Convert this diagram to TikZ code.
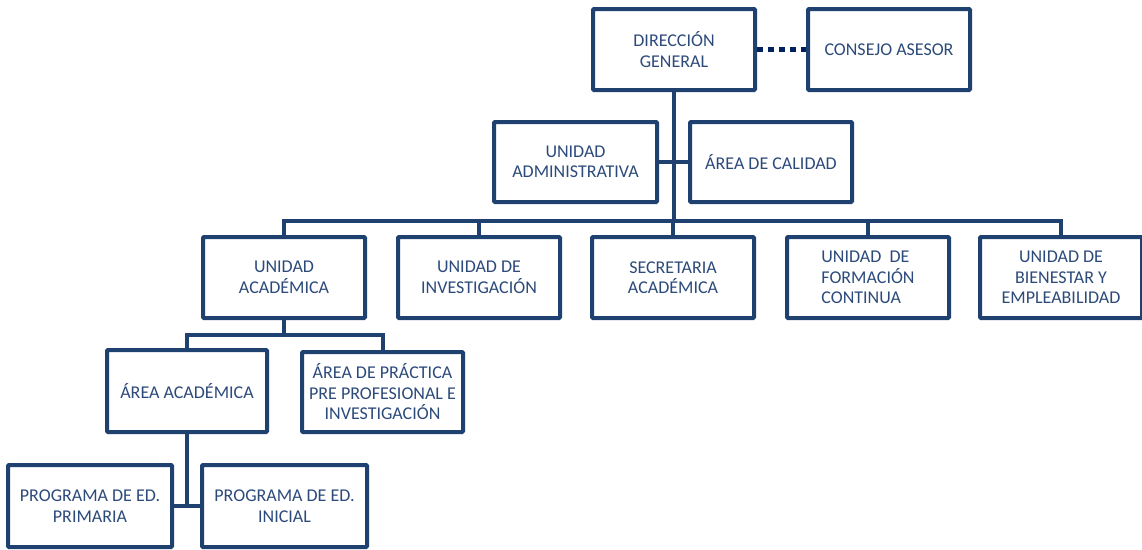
\documentclass[tikz,border=0pt]{standalone}
\usepackage{fontspec}
\setmainfont{Carlito}
\usetikzlibrary{backgrounds}
\definecolor{boxline}{RGB}{31,65,112}
\definecolor{boxtext}{RGB}{44,74,122}
\definecolor{navy}{RGB}{0,32,96}
\begin{document}
\begin{tikzpicture}[x=1pt,y=-1pt,
  box/.style={draw=boxline, line width=4pt, fill=white, rectangle, rounded corners=1pt,
    minimum width=162pt, minimum height=81pt, inner sep=2pt, align=center,
    text=boxtext, font=\fontsize{18}{20.5}\selectfont},
  conn/.style={draw=boxline, line width=4pt},
  dots/.style={draw=navy, line width=5pt, dash pattern=on 6pt off 5pt}]
\useasboundingbox (0,0) rectangle (1142,549);
% nodes
\node[box] (dg) at (674,49.5) {DIRECCIÓN\\GENERAL};
\node[box] (ca) at (889,49.5) {CONSEJO ASESOR};
\node[box, minimum width=163pt, minimum height=80pt] (ua) at (575.5,162) {UNIDAD\\ADMINISTRATIVA};
\node[box, minimum height=80pt] (ac) at (771,162) {ÁREA DE CALIDAD};
\node[box] (uac) at (284,277.5) {UNIDAD\\ACADÉMICA};
\node[box] (ui) at (479,277.5) {UNIDAD DE\\INVESTIGACIÓN};
\node[box] (sa) at (673,277.5) {SECRETARIA\\ACADÉMICA};
\node[box, align=left] (uf) at (868,277.5) {UNIDAD\ \ DE\\FORMACIÓN\\CONTINUA};
\node[box] (ub) at (1061,277.5) {UNIDAD DE\\BIENESTAR Y\\EMPLEABILIDAD};
\node[box, minimum width=160pt, minimum height=82pt] (aa) at (187,391) {ÁREA ACADÉMICA};
\node[box, minimum width=161pt, minimum height=80pt] (ap) at (382.5,392) {ÁREA DE PRÁCTICA\\PRE PROFESIONAL E\\INVESTIGACIÓN};
\node[box, minimum width=164pt, minimum height=82pt] (pp) at (90,506) {PROGRAMA DE ED.\\PRIMARIA};
\node[box, minimum width=165pt, minimum height=82pt] (pi) at (284.5,506) {PROGRAMA DE ED.\\INICIAL};
% coordinates
\coordinate (bus) at (674,221);
\coordinate (sub) at (284,335);
\coordinate (pj) at (187,507);
% connectors
\begin{scope}[on background layer]
\draw[dots] (dg.east) -- (ca.west);
\draw[conn] (dg.south) -- (bus);
\draw[conn] (ua.east) -- (ac.west);
\draw[conn] (uac.north) |- (bus) -| (ub.north);
\draw[conn] (ui.north) -- (ui.north |- bus);
\draw[conn] (sa.north) -- (sa.north |- bus);
\draw[conn] (uf.north) -- (uf.north |- bus);
\draw[conn] (uac.south) -- (sub);
\draw[conn] (aa.north) |- (sub) -| (ap.north);
\draw[conn] (aa.south) -- (pj);
\draw[conn] (pp.east) -- (pi.west);
\end{scope}
\end{tikzpicture}
\end{document}
